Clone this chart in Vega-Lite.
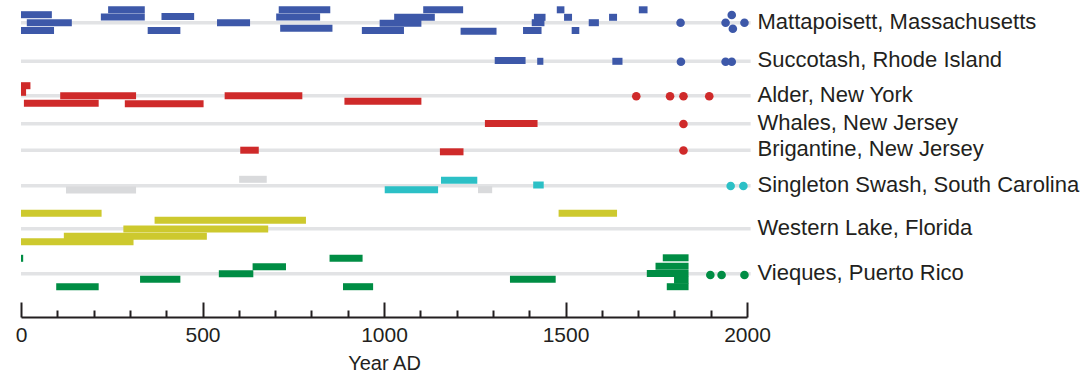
{
  "$schema": "https://vega.github.io/schema/vega-lite/v6.json",
  "width": 726,
  "height": 317,
  "autosize": {"type": "none"},
  "padding": {"left": 21, "top": 0, "right": 344, "bottom": 57},
  "config": {
    "view": {"stroke": null},
    "font": "Liberation Sans",
    "axis": {"grid": false}
  },
  "datasets": {
    "lines": [
      {"site": "Mattapoisett, Massachusetts", "from": 0, "to": 2010, "track": 22.8},
      {"site": "Succotash, Rhode Island", "from": 0, "to": 2010, "track": 61.3},
      {"site": "Alder, New York", "from": 0, "to": 2010, "track": 95.8},
      {"site": "Whales, New Jersey", "from": 0, "to": 2010, "track": 123.7},
      {"site": "Brigantine, New Jersey", "from": 0, "to": 2010, "track": 150.3},
      {"site": "Singleton Swash, South Carolina", "from": 0, "to": 2010, "track": 185.7},
      {"site": "Western Lake, Florida", "from": 0, "to": 2010, "track": 228.8},
      {"site": "Vieques, Puerto Rico", "from": 0, "to": 2010, "track": 273.8}
    ],
    "intervals": [
      {"region": "NE", "kind": "event", "start": 240, "end": 341, "track": 9.8},
      {"region": "NE", "kind": "event", "start": 710, "end": 852, "track": 9.8},
      {"region": "NE", "kind": "event", "start": 1108, "end": 1218, "track": 9.8},
      {"region": "NE", "kind": "event", "start": 1476, "end": 1497, "track": 9.8},
      {"region": "NE", "kind": "event", "start": 1702, "end": 1726, "track": 9.8},
      {"region": "NE", "kind": "event", "start": 0, "end": 85, "track": 14.7},
      {"region": "NE", "kind": "event", "start": 220, "end": 341, "track": 17},
      {"region": "NE", "kind": "event", "start": 387, "end": 477, "track": 16.4},
      {"region": "NE", "kind": "event", "start": 703, "end": 824, "track": 17},
      {"region": "NE", "kind": "event", "start": 1028, "end": 1140, "track": 17.3},
      {"region": "NE", "kind": "event", "start": 1413, "end": 1445, "track": 17.3},
      {"region": "NE", "kind": "event", "start": 1496, "end": 1518, "track": 17.3},
      {"region": "NE", "kind": "event", "start": 1620, "end": 1642, "track": 17.3},
      {"region": "NE", "kind": "event", "start": 16, "end": 140, "track": 22.7},
      {"region": "NE", "kind": "event", "start": 540, "end": 631, "track": 22.7},
      {"region": "NE", "kind": "event", "start": 988, "end": 1103, "track": 23.3},
      {"region": "NE", "kind": "event", "start": 1407, "end": 1442, "track": 22.7},
      {"region": "NE", "kind": "event", "start": 1564, "end": 1592, "track": 22.7},
      {"region": "NE", "kind": "event", "start": 714, "end": 858, "track": 28.2},
      {"region": "NE", "kind": "event", "start": 0, "end": 91, "track": 30.5},
      {"region": "NE", "kind": "event", "start": 349, "end": 439, "track": 30.5},
      {"region": "NE", "kind": "event", "start": 939, "end": 1055, "track": 30.5},
      {"region": "NE", "kind": "event", "start": 1211, "end": 1310, "track": 31.2},
      {"region": "NE", "kind": "event", "start": 1383, "end": 1434, "track": 30.5},
      {"region": "NE", "kind": "event", "start": 1517, "end": 1538, "track": 30.5},
      {"region": "NE", "kind": "event", "start": 1305, "end": 1390, "track": 60.5},
      {"region": "NE", "kind": "event", "start": 1422, "end": 1439, "track": 61.3},
      {"region": "NE", "kind": "event", "start": 1629, "end": 1657, "track": 61.3},
      {"region": "MA", "kind": "event", "start": 0, "end": 26, "track": 85.7},
      {"region": "MA", "kind": "event", "start": 0, "end": 14, "track": 92.3},
      {"region": "MA", "kind": "event", "start": 108, "end": 317, "track": 95.7},
      {"region": "MA", "kind": "event", "start": 8, "end": 214, "track": 103.2},
      {"region": "MA", "kind": "event", "start": 286, "end": 503, "track": 103.8},
      {"region": "MA", "kind": "event", "start": 561, "end": 775, "track": 95.7},
      {"region": "MA", "kind": "event", "start": 891, "end": 1103, "track": 101.3},
      {"region": "MA", "kind": "event", "start": 1278, "end": 1423, "track": 123.5},
      {"region": "MA", "kind": "event", "start": 604, "end": 655, "track": 150.2},
      {"region": "MA", "kind": "event", "start": 1154, "end": 1219, "track": 151.8},
      {"region": "SC", "kind": "other", "start": 124, "end": 317, "track": 190},
      {"region": "SC", "kind": "other", "start": 601, "end": 677, "track": 179.3},
      {"region": "SC", "kind": "event", "start": 1002, "end": 1149, "track": 189.7},
      {"region": "SC", "kind": "event", "start": 1157, "end": 1257, "track": 180.2},
      {"region": "SC", "kind": "other", "start": 1259, "end": 1298, "track": 189.7},
      {"region": "SC", "kind": "event", "start": 1411, "end": 1440, "track": 185},
      {"region": "FL", "kind": "event", "start": 0, "end": 222, "track": 213.3},
      {"region": "FL", "kind": "event", "start": 368, "end": 785, "track": 220.3},
      {"region": "FL", "kind": "event", "start": 282, "end": 681, "track": 229},
      {"region": "FL", "kind": "event", "start": 118, "end": 512, "track": 236.2},
      {"region": "FL", "kind": "event", "start": 0, "end": 310, "track": 241.7},
      {"region": "FL", "kind": "event", "start": 1481, "end": 1642, "track": 213.3},
      {"region": "PR", "kind": "event", "start": 0, "end": 6, "track": 258.3},
      {"region": "PR", "kind": "event", "start": 850, "end": 941, "track": 258.3},
      {"region": "PR", "kind": "event", "start": 887, "end": 970, "track": 286.7},
      {"region": "PR", "kind": "event", "start": 638, "end": 730, "track": 266.7},
      {"region": "PR", "kind": "event", "start": 545, "end": 640, "track": 273.7},
      {"region": "PR", "kind": "event", "start": 328, "end": 439, "track": 279.3},
      {"region": "PR", "kind": "event", "start": 97, "end": 214, "track": 286.7},
      {"region": "PR", "kind": "event", "start": 1347, "end": 1473, "track": 279.3},
      {"region": "PR", "kind": "event", "start": 1768, "end": 1839, "track": 257.8},
      {"region": "PR", "kind": "event", "start": 1748, "end": 1839, "track": 266.3},
      {"region": "PR", "kind": "event", "start": 1724, "end": 1839, "track": 273.5},
      {"region": "PR", "kind": "event", "start": 1799, "end": 1839, "track": 280.2},
      {"region": "PR", "kind": "event", "start": 1779, "end": 1839, "track": 286.7}
    ],
    "historical": [
      {"region": "NE", "year": 1817, "track": 22.8},
      {"region": "NE", "year": 1941, "track": 22.8},
      {"region": "NE", "year": 1958, "track": 15},
      {"region": "NE", "year": 1961, "track": 28.7},
      {"region": "NE", "year": 1993, "track": 22.8},
      {"region": "NE", "year": 1818, "track": 61.8},
      {"region": "NE", "year": 1941, "track": 61.8},
      {"region": "NE", "year": 1958, "track": 61.8},
      {"region": "MA", "year": 1695, "track": 96.2},
      {"region": "MA", "year": 1788, "track": 96.2},
      {"region": "MA", "year": 1825, "track": 96.2},
      {"region": "MA", "year": 1896, "track": 96.2},
      {"region": "MA", "year": 1825, "track": 124},
      {"region": "MA", "year": 1825, "track": 150.5},
      {"region": "SC", "year": 1955, "track": 186},
      {"region": "SC", "year": 1990, "track": 186},
      {"region": "PR", "year": 1899, "track": 275},
      {"region": "PR", "year": 1930, "track": 275},
      {"region": "PR", "year": 1993, "track": 275}
    ]
  },
  "layer": [
    {
      "data": {"name": "lines"},
      "mark": {"type": "rule", "color": "#e2e3e5", "strokeWidth": 3.6},
      "encoding": {
        "x": {
          "field": "from",
          "type": "quantitative",
          "scale": {"domain": [0, 2000], "nice": false, "zero": false, "padding": 0},
          "axis": {
            "orient": "bottom",
            "values": [0, 500, 1000, 1500, 2000],
            "format": "d",
            "tickSize": -15,
            "tickWidth": 2,
            "tickColor": "#231f20",
            "domainColor": "#231f20",
            "domainWidth": 2,
            "labelFontSize": 21,
            "labelColor": "#231f20",
            "labelPadding": 22,
            "labelFlush": false,
            "labelOverlap": false,
            "title": "Year AD",
            "titleFontSize": 20,
            "titleFontWeight": "normal",
            "titleColor": "#231f20",
            "titlePadding": 8
          }
        },
        "x2": {"field": "to"},
        "y": {
          "field": "track",
          "type": "quantitative",
          "scale": {"domain": [0, 317], "reverse": true, "nice": false, "zero": false, "padding": 0},
          "axis": {
            "orient": "right",
            "values": [22.8, 61.3, 95.8, 123.7, 150.3, 185.7, 228.8, 273.8],
            "labelExpr": "datum.value < 40 ? 'Mattapoisett, Massachusetts' : datum.value < 80 ? 'Succotash, Rhode Island' : datum.value < 110 ? 'Alder, New York' : datum.value < 135 ? 'Whales, New Jersey' : datum.value < 165 ? 'Brigantine, New Jersey' : datum.value < 200 ? 'Singleton Swash, South Carolina' : datum.value < 250 ? 'Western Lake, Florida' : 'Vieques, Puerto Rico'",
            "domain": false,
            "ticks": false,
            "tickSize": 0,
            "labelPadding": 10,
            "labelOffset": -1.5,
            "labelFontSize": 22,
            "labelColor": "#231f20",
            "labelLimit": 400,
            "labelOverlap": false,
            "labelFlush": false,
            "title": null
          }
        }
      }
    },
    {
      "data": {"name": "intervals"},
      "mark": {"type": "bar", "size": 7},
      "encoding": {
        "x": {
          "field": "start",
          "type": "quantitative",
          "axis": {
            "orient": "bottom",
            "values": [100, 200, 300, 400, 600, 700, 800, 900, 1100, 1200, 1300, 1400, 1600, 1700, 1800, 1900],
            "tickSize": -7,
            "tickWidth": 2,
            "tickColor": "#231f20",
            "domain": false,
            "labels": false,
            "title": null
          }
        },
        "x2": {"field": "end"},
        "y": {"field": "track", "type": "quantitative", "axis": null},
        "color": {
          "condition": {"test": "datum.kind === 'other'", "value": "#d9dadc"},
          "field": "region",
          "type": "nominal",
          "scale": {"domain": ["NE", "MA", "SC", "FL", "PR"], "range": ["#3d58a9", "#cf2a2a", "#2cc0c6", "#cdc92e", "#008d44"]},
          "legend": null
        }
      }
    },
    {
      "data": {"name": "historical"},
      "mark": {"type": "circle", "size": 74, "opacity": 1},
      "encoding": {
        "x": {"field": "year", "type": "quantitative", "axis": null},
        "y": {"field": "track", "type": "quantitative", "axis": null},
        "color": {
          "field": "region",
          "type": "nominal",
          "scale": {"domain": ["NE", "MA", "SC", "FL", "PR"], "range": ["#3d58a9", "#cf2a2a", "#2cc0c6", "#cdc92e", "#008d44"]},
          "legend": null
        }
      }
    }
  ],
  "resolve": {"axis": {"x": "independent", "y": "independent"}}
}
